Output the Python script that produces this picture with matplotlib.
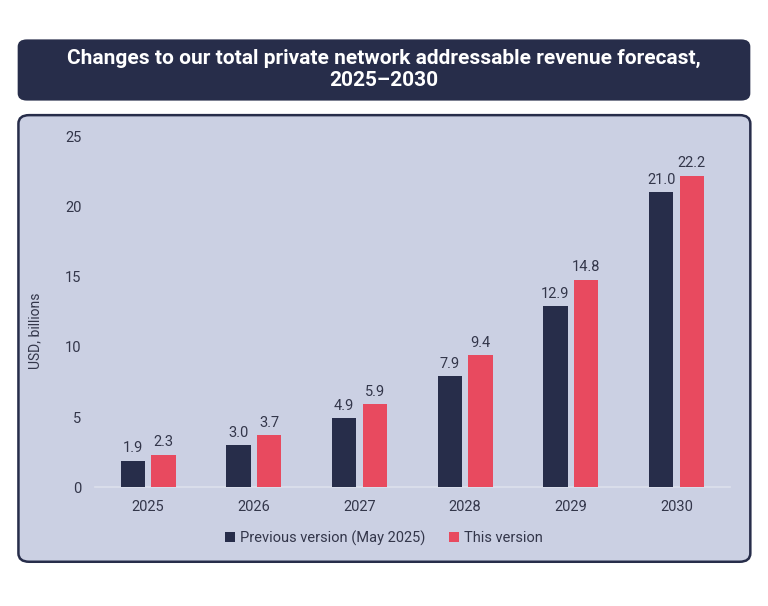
import matplotlib.pyplot as plt
import numpy as np
from matplotlib.patches import FancyBboxPatch

plt.rcParams['font.family'] = ['Roboto', 'DejaVu Sans']

years = ["2025", "2026", "2027", "2028", "2029", "2030"]
previous = [1.9, 3.0, 4.9, 7.9, 12.9, 21.0]
current = [2.3, 3.7, 5.9, 9.4, 14.8, 22.2]
series_names = ["Previous version (May 2025)", "This version"]

navy = "#272d4a"
red = "#e84a5f"
panel_bg = "#cbd0e3"
text_col = "#33364a"

fig = plt.figure(figsize=(7.68, 6.06), dpi=100)
fig.patch.set_facecolor("white")

# title box
fig.patches.append(FancyBboxPatch((0.023, 0.834), 0.954, 0.101,
                                  boxstyle="round,pad=0,rounding_size=0.012",
                                  transform=fig.transFigure, facecolor=navy,
                                  edgecolor="none", zorder=-2))
fig.text(0.5, 0.885, "Changes to our total private network addressable revenue forecast,\n2025\u20132030",
         ha="center", va="center", color="white", fontsize=15, fontweight="bold",
         linespacing=1.2)

# panel box
fig.patches.append(FancyBboxPatch((0.024, 0.073), 0.953, 0.737,
                                  boxstyle="round,pad=0,rounding_size=0.014",
                                  transform=fig.transFigure, facecolor=panel_bg,
                                  edgecolor=navy, linewidth=1.8, zorder=-2))

ax = fig.add_axes([0.124, 0.196, 0.827, 0.579])
ax.set_facecolor("none")
ax.set_zorder(2)

x = np.arange(len(years))
w = 0.23
off = 0.145
b1 = ax.bar(x - off, previous, w, color=navy, label=series_names[0], zorder=3)
b2 = ax.bar(x + off, current, w, color=red, label=series_names[1], zorder=3)

for bars in (b1, b2):
    for r in bars:
        ax.annotate(f"{r.get_height():.1f}", (r.get_x() + r.get_width() / 2, r.get_height()),
                    xytext=(0, 4), textcoords="offset points", ha="center", va="bottom",
                    fontsize=10.5, color=text_col, annotation_clip=False)

ax.set_xlim(-0.50, 5.51)
ax.set_ylim(0, 25)
ax.set_yticks([0, 5, 10, 15, 20, 25])
ax.set_xticks(x)
ax.set_xticklabels(years)
for s in ["top", "right", "left"]:
    ax.spines[s].set_visible(False)
ax.spines["bottom"].set_color("#dde0ec")
ax.spines["bottom"].set_linewidth(1.2)
ax.tick_params(axis="y", length=0, pad=10, labelsize=10.5, labelcolor=text_col)
ax.tick_params(axis="x", length=0, pad=9, labelsize=10.5, labelcolor=text_col)

fig.text(0.046, 0.455, "USD, billions", rotation=90, ha="center", va="center",
         fontsize=10, color=text_col)

fig.legend(handles=[b1, b2], labels=series_names, loc="center", bbox_to_anchor=(0.5, 0.112),
           ncol=2, frameon=False, fontsize=10.5, handlelength=0.7, handleheight=0.7,
           handletextpad=0.35, columnspacing=1.6, labelcolor=text_col)

fig.savefig("out.png", dpi=100)
